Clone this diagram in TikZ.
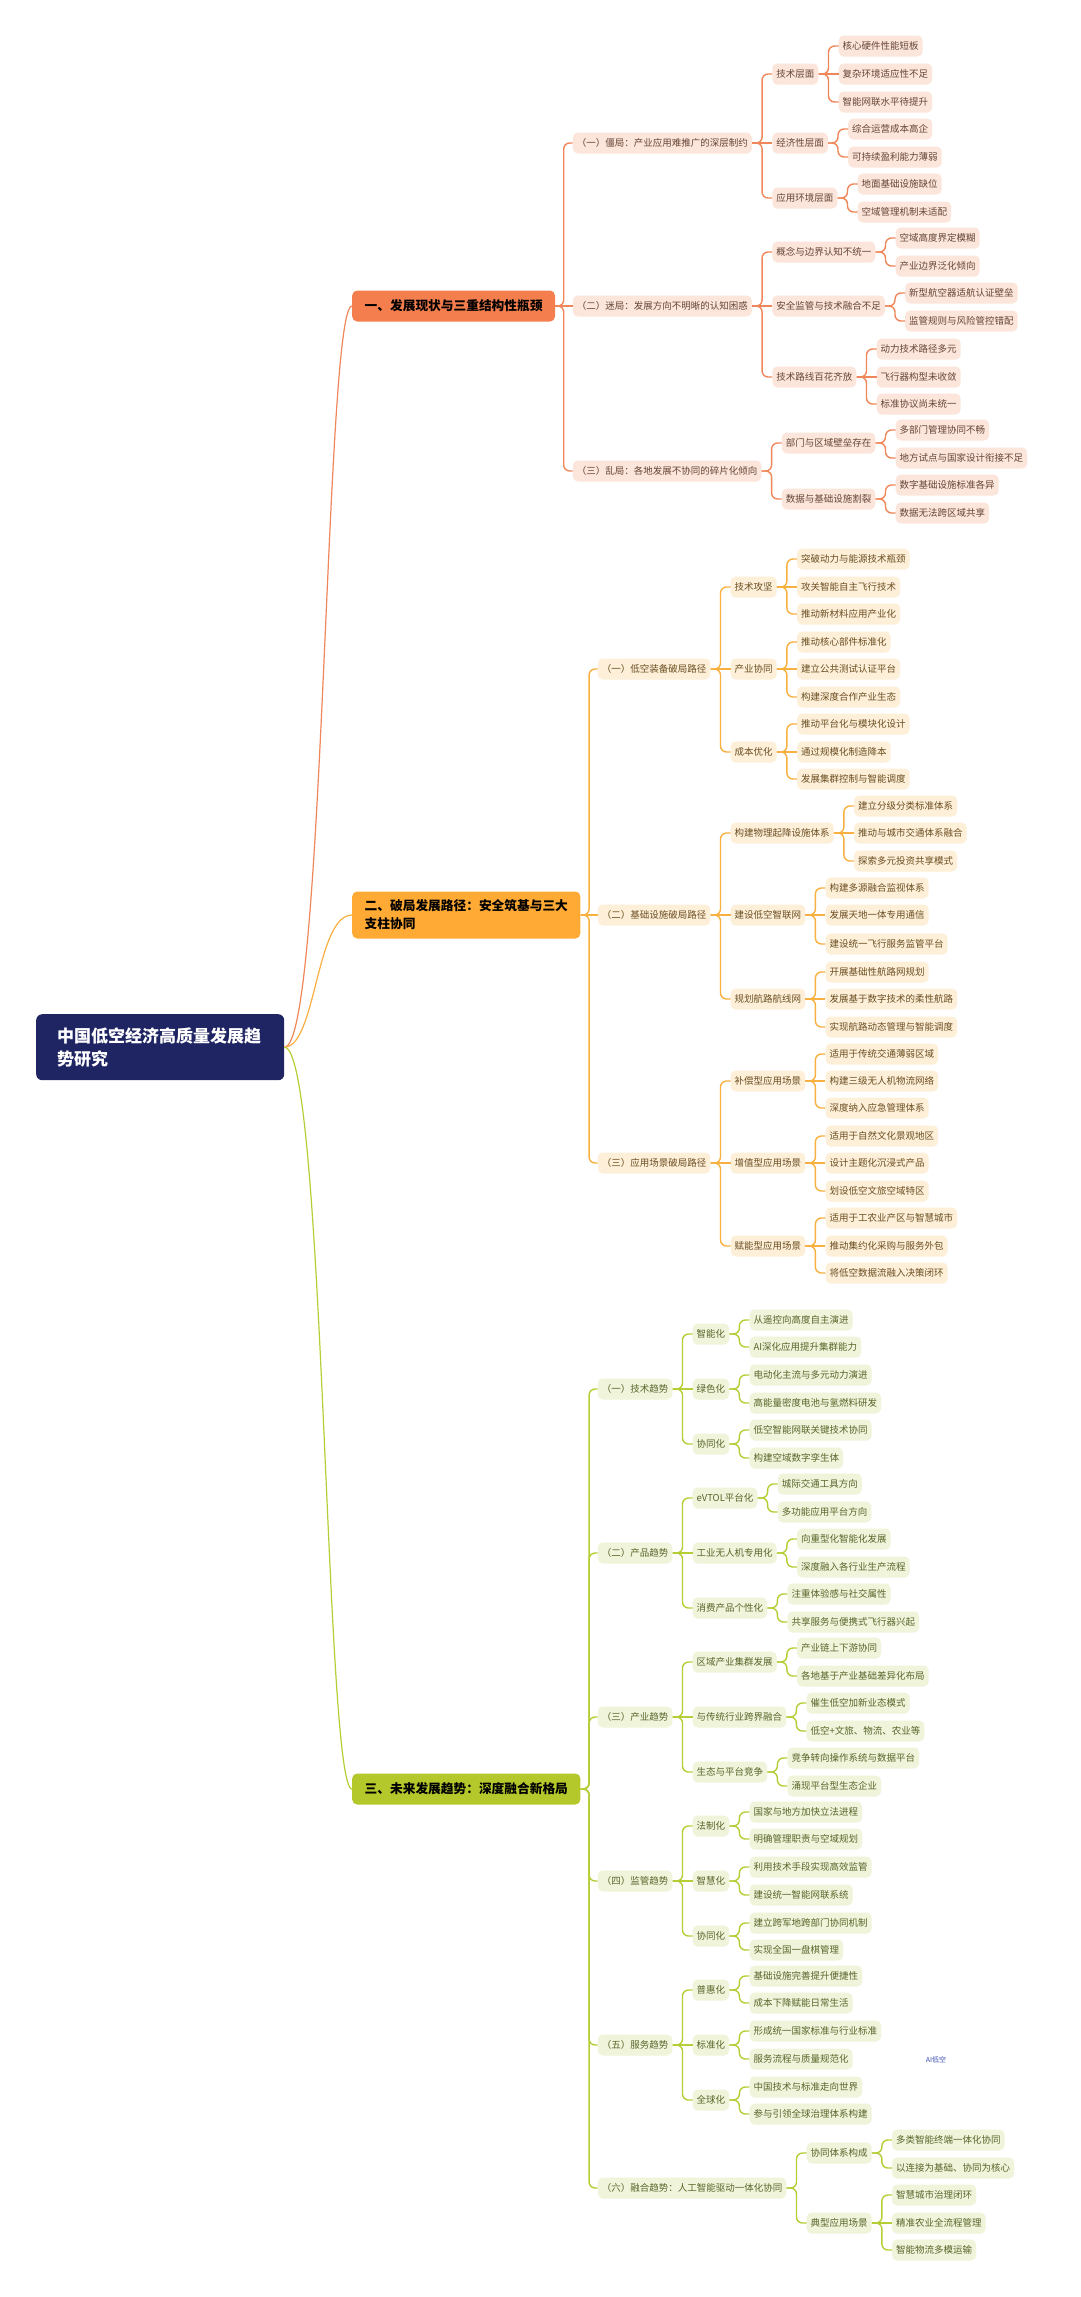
\documentclass[tikz,border=0pt]{standalone}
\usepackage{fontspec}
\setmainfont{Noto Sans CJK SC}
\definecolor{aFill}{HTML}{FCE5DA}
\definecolor{aLine}{HTML}{F0875A}
\definecolor{aText}{HTML}{654636}
\definecolor{aMain}{HTML}{F47E4E}
\definecolor{bFill}{HTML}{FEEFD8}
\definecolor{bLine}{HTML}{F8B040}
\definecolor{bText}{HTML}{6A4E22}
\definecolor{bMain}{HTML}{FFAA35}
\definecolor{cFill}{HTML}{EFF4DA}
\definecolor{cLine}{HTML}{B7CD36}
\definecolor{cText}{HTML}{59652B}
\definecolor{cMain}{HTML}{B5C82B}
\definecolor{rootFill}{HTML}{1F2563}
\definecolor{wmark}{HTML}{3F51B5}
\tikzset{
  boxbase/.style={rounded corners=5pt, inner xsep=4pt, inner ysep=0pt, minimum height=21pt,
    text height=8.4pt, text depth=1.1pt, font=\fontsize{9.5}{11}\selectfont},
  abox/.style={boxbase, fill=aFill, text=aText},
  bbox/.style={boxbase, fill=bFill, text=bText},
  cbox/.style={boxbase, fill=cFill, text=cText},
  aline/.style={draw=aLine, line width=1.4pt, rounded corners=6pt},
  bline/.style={draw=bLine, line width=1.4pt, rounded corners=6pt},
  cline/.style={draw=cLine, line width=1.4pt, rounded corners=6pt},
  mainbox/.style={rounded corners=5pt, inner xsep=12.5pt, inner ysep=0pt, text=black,
    font=\bfseries\fontsize{12.7}{18}\selectfont, align=left, anchor=west},
  rootbox/.style={rounded corners=6pt, fill=rootFill, text=white, inner xsep=21pt, inner ysep=0pt,
    minimum height=66pt, text width=206pt, align=left, anchor=north west,
    font=\bfseries\fontsize{17}{23}\selectfont},
  rootcurve/.style={line width=1.2pt}
}
\def\gx{20}
\def\bx{10}
% #1 style letter, #2 parent, #3 child, #4 y, #5 text
\newcommand\kid[5]{%
  \path (#2.east) ++(\gx,0) coordinate (tmp);
  \node[#1box, anchor=west] (#3) at (tmp |- 0,#4) {#5};
  \draw[#1line] (#2.east) -- ++(\bx,0) |- (#3.west);
}
% child level with its parent: #1 style, #2 parent, #3 child, #4 text
\newcommand\kidc[4]{%
  \path (#2.east) ++(\gx,0) coordinate (tmp);
  \node[#1box, anchor=west] (#3) at (tmp) {#4};
  \draw[#1line] (#2.east) -- (#3.west);
}
\begin{document}
\begin{tikzpicture}[x=1pt, y=-1pt]
\fill[white] (0,0) rectangle (1080,2297);
\useasboundingbox (0,0) rectangle (1080,2297);

% root and main branches
\node[rootbox] (root) at (36,1014) {中国低空经济高质量发展趋\\势研究};
\node[mainbox, fill=aMain, minimum height=31pt, text height=11.2pt, text depth=1.5pt] (m1) at (352,306) {一、发展现状与三重结构性瓶颈};
\node[mainbox, fill=bMain, minimum height=47pt] (m2) at (352,915) {二、破局发展路径：安全筑基与三大\\支柱协同};
\node[mainbox, fill=cMain, minimum height=31pt, text height=11.2pt, text depth=1.5pt] (m3) at (352,1789) {三、未来发展趋势：深度融合新格局};

\draw[rootcurve, draw=aLine] (root.east) .. controls (325,1047) and (325,306) .. (m1.west);
\draw[rootcurve, draw=bLine] (root.east) .. controls (316,1047) and (316,915) .. (m2.west);
\draw[rootcurve, draw=cLine] (root.east) .. controls (325,1047) and (325,1789) .. (m3.west);

% ===== Branch 1 =====
\def\gx{17.5}\def\bx{8.5}
\kid{a}{m1}{a1}{143}{（一）僵局：产业应用难推广的深层制约}
\kidc{a}{m1}{a2}{（二）迷局：发展方向不明晰的认知困惑}
\kid{a}{m1}{a3}{471}{（三）乱局：各地发展不协同的碎片化倾向}
\def\gx{20}\def\bx{10}
\kid{a}{a1}{a11}{74}{技术层面}
\kidc{a}{a1}{a12}{经济性层面}
\kid{a}{a1}{a13}{198}{应用环境层面}
\kid{a}{a11}{a111}{46}{核心硬件性能短板}
\kidc{a}{a11}{a112}{复杂环境适应性不足}
\kid{a}{a11}{a113}{102}{智能网联水平待提升}
\kid{a}{a12}{a121}{129}{综合运营成本高企}
\kid{a}{a12}{a122}{157}{可持续盈利能力薄弱}
\kid{a}{a13}{a131}{184}{地面基础设施缺位}
\kid{a}{a13}{a132}{212}{空域管理机制未适配}

\kid{a}{a2}{a21}{252}{概念与边界认知不统一}
\kidc{a}{a2}{a22}{安全监管与技术融合不足}
\kid{a}{a2}{a23}{377}{技术路线百花齐放}
\kid{a}{a21}{a211}{238}{空域高度界定模糊}
\kid{a}{a21}{a212}{266}{产业边界泛化倾向}
\kid{a}{a22}{a221}{293}{新型航空器适航认证壁垒}
\kid{a}{a22}{a222}{321}{监管规则与风险管控错配}
\kid{a}{a23}{a231}{349}{动力技术路径多元}
\kidc{a}{a23}{a232}{飞行器构型未收敛}
\kid{a}{a23}{a233}{404}{标准协议尚未统一}

\kid{a}{a3}{a31}{443}{部门与区域壁垒存在}
\kid{a}{a3}{a32}{499}{数据与基础设施割裂}
\kid{a}{a31}{a311}{430}{多部门管理协同不畅}
\kid{a}{a31}{a312}{458}{地方试点与国家设计衔接不足}
\kid{a}{a32}{a321}{485}{数字基础设施标准各异}
\kid{a}{a32}{a322}{513}{数据无法跨区域共享}

% ===== Branch 2 =====
\def\gx{17}\def\bx{8.5}
\kid{b}{m2}{b1}{669}{（一）低空装备破局路径}
\kidc{b}{m2}{b2}{（二）基础设施破局路径}
\kid{b}{m2}{b3}{1163}{（三）应用场景破局路径}
\def\gx{20}\def\bx{10}
\kid{b}{b1}{b11}{587}{技术攻坚}
\kidc{b}{b1}{b12}{产业协同}
\kid{b}{b1}{b13}{752}{成本优化}
\kid{b}{b11}{b111}{559}{突破动力与能源技术瓶颈}
\kidc{b}{b11}{b112}{攻关智能自主飞行技术}
\kid{b}{b11}{b113}{614}{推动新材料应用产业化}
\kid{b}{b12}{b121}{642}{推动核心部件标准化}
\kidc{b}{b12}{b122}{建立公共测试认证平台}
\kid{b}{b12}{b123}{697}{构建深度合作产业生态}
\kid{b}{b13}{b131}{724}{推动平台化与模块化设计}
\kidc{b}{b13}{b132}{通过规模化制造降本}
\kid{b}{b13}{b133}{779}{发展集群控制与智能调度}

\kid{b}{b2}{b21}{833}{构建物理起降设施体系}
\kidc{b}{b2}{b22}{建设低空智联网}
\kid{b}{b2}{b23}{999}{规划航路航线网}
\kid{b}{b21}{b211}{806}{建立分级分类标准体系}
\kidc{b}{b21}{b212}{推动与城市交通体系融合}
\kid{b}{b21}{b213}{861}{探索多元投资共享模式}
\kid{b}{b22}{b221}{888}{构建多源融合监视体系}
\kidc{b}{b22}{b222}{发展天地一体专用通信}
\kid{b}{b22}{b223}{944}{建设统一飞行服务监管平台}
\kid{b}{b23}{b231}{972}{开展基础性航路网规划}
\kidc{b}{b23}{b232}{发展基于数字技术的柔性航路}
\kid{b}{b23}{b233}{1027}{实现航路动态管理与智能调度}

\kid{b}{b3}{b31}{1081}{补偿型应用场景}
\kidc{b}{b3}{b32}{增值型应用场景}
\kid{b}{b3}{b33}{1246}{赋能型应用场景}
\kid{b}{b31}{b311}{1054}{适用于传统交通薄弱区域}
\kidc{b}{b31}{b312}{构建三级无人机物流网络}
\kid{b}{b31}{b313}{1108}{深度纳入应急管理体系}
\kid{b}{b32}{b321}{1136}{适用于自然文化景观地区}
\kidc{b}{b32}{b322}{设计主题化沉浸式产品}
\kid{b}{b32}{b323}{1191}{划设低空文旅空域特区}
\kid{b}{b33}{b331}{1218}{适用于工农业产区与智慧城市}
\kidc{b}{b33}{b332}{推动集约化采购与服务外包}
\kid{b}{b33}{b333}{1273}{将低空数据流融入决策闭环}

% ===== Branch 3 =====
\def\gx{17}\def\bx{8.5}
\kid{c}{m3}{c1}{1389}{（一）技术趋势}
\kid{c}{m3}{c2}{1553}{（二）产品趋势}
\kid{c}{m3}{c3}{1717}{（三）产业趋势}
\kid{c}{m3}{c4}{1881}{（四）监管趋势}
\kid{c}{m3}{c5}{2045}{（五）服务趋势}
\kid{c}{m3}{c6}{2188}{（六）融合趋势：人工智能驱动一体化协同}
\def\gx{20}\def\bx{10}
\kid{c}{c1}{c11}{1334}{智能化}
\kidc{c}{c1}{c12}{绿色化}
\kid{c}{c1}{c13}{1444}{协同化}
\kid{c}{c11}{c111}{1320}{从遥控向高度自主演进}
\kid{c}{c11}{c112}{1347}{AI深化应用提升集群能力}
\kid{c}{c12}{c121}{1375}{电动化主流与多元动力演进}
\kid{c}{c12}{c122}{1403}{高能量密度电池与氢燃料研发}
\kid{c}{c13}{c131}{1430}{低空智能网联关键技术协同}
\kid{c}{c13}{c132}{1458}{构建空域数字孪生体}

\kid{c}{c2}{c21}{1498}{eVTOL平台化}
\kidc{c}{c2}{c22}{工业无人机专用化}
\kid{c}{c2}{c23}{1608}{消费产品个性化}
\kid{c}{c21}{c211}{1484}{城际交通工具方向}
\kid{c}{c21}{c212}{1512}{多功能应用平台方向}
\kid{c}{c22}{c221}{1539}{向重型化智能化发展}
\kid{c}{c22}{c222}{1567}{深度融入各行业生产流程}
\kid{c}{c23}{c231}{1594}{注重体验感与社交属性}
\kid{c}{c23}{c232}{1622}{共享服务与便携式飞行器兴起}

\kid{c}{c3}{c31}{1662}{区域产业集群发展}
\kidc{c}{c3}{c32}{与传统行业跨界融合}
\kid{c}{c3}{c33}{1772}{生态与平台竞争}
\kid{c}{c31}{c311}{1648}{产业链上下游协同}
\kid{c}{c31}{c312}{1676}{各地基于产业基础差异化布局}
\kid{c}{c32}{c321}{1703}{催生低空加新业态模式}
\kid{c}{c32}{c322}{1731}{低空+文旅、物流、农业等}
\kid{c}{c33}{c331}{1758}{竞争转向操作系统与数据平台}
\kid{c}{c33}{c332}{1786}{涌现平台型生态企业}

\kid{c}{c4}{c41}{1826}{法制化}
\kidc{c}{c4}{c42}{智慧化}
\kid{c}{c4}{c43}{1936}{协同化}
\kid{c}{c41}{c411}{1812}{国家与地方加快立法进程}
\kid{c}{c41}{c412}{1839}{明确管理职责与空域规划}
\kid{c}{c42}{c421}{1867}{利用技术手段实现高效监管}
\kid{c}{c42}{c422}{1895}{建设统一智能网联系统}
\kid{c}{c43}{c431}{1923}{建立跨军地跨部门协同机制}
\kid{c}{c43}{c432}{1950}{实现全国一盘棋管理}

\kid{c}{c5}{c51}{1990}{普惠化}
\kidc{c}{c5}{c52}{标准化}
\kid{c}{c5}{c53}{2100}{全球化}
\kid{c}{c51}{c511}{1976}{基础设施完善提升便捷性}
\kid{c}{c51}{c512}{2003}{成本下降赋能日常生活}
\kid{c}{c52}{c521}{2031}{形成统一国家标准与行业标准}
\kid{c}{c52}{c522}{2059}{服务流程与质量规范化}
\kid{c}{c53}{c531}{2087}{中国技术与标准走向世界}
\kid{c}{c53}{c532}{2114}{参与引领全球治理体系构建}

\kid{c}{c6}{c61}{2153}{协同体系构成}
\kid{c}{c6}{c62}{2223}{典型应用场景}
\kid{c}{c61}{c611}{2140}{多类智能终端一体化协同}
\kid{c}{c61}{c612}{2168}{以连接为基础、协同为核心}
\kid{c}{c62}{c621}{2195}{智慧城市治理闭环}
\kidc{c}{c62}{c622}{精准农业全流程管理}
\kid{c}{c62}{c623}{2250}{智能物流多模运输}

% watermark
\node[text=wmark, font=\fontsize{7}{8}\selectfont, inner sep=0pt] (wm) at (936,2060) {AI低空};
\end{tikzpicture}
\end{document}
